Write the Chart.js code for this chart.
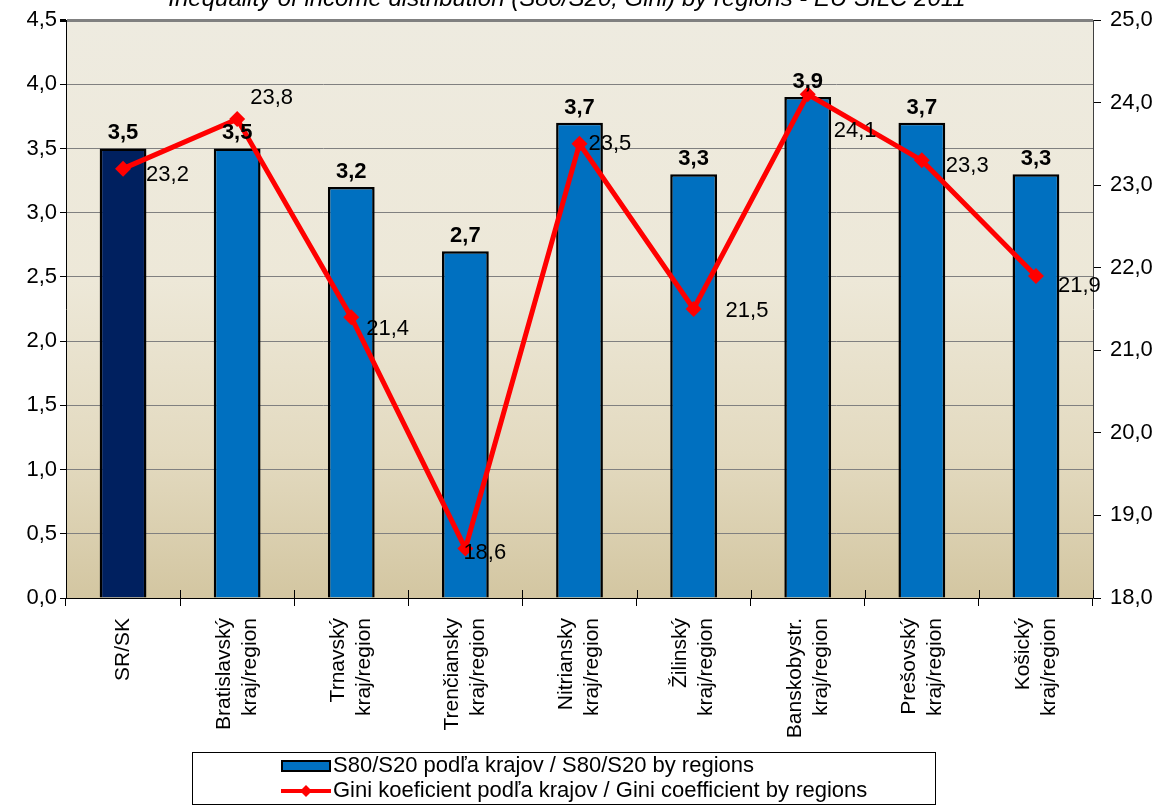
<!DOCTYPE html>
<html><head><meta charset="utf-8">
<script src="https://cdn.jsdelivr.net/npm/chart.js@4/dist/chart.umd.min.js"></script>
<style>html,body{margin:0;padding:0;background:#fff;overflow:hidden}#wrap{width:1169px;height:805px;position:relative}</style>
</head><body><div id="wrap"><canvas id="c" width="1169" height="805"></canvas></div>
<script>
const titleText = "Inequality of income distribution (S80/S20, Gini) by regions - EU SILC 2011";
const categories = [
  ["SR/SK"],
  ["Bratislavský","kraj/region"],
  ["Trnavský","kraj/region"],
  ["Trenčiansky","kraj/region"],
  ["Nitriansky","kraj/region"],
  ["Žilinský","kraj/region"],
  ["Banskobystr.","kraj/region"],
  ["Prešovský","kraj/region"],
  ["Košický","kraj/region"]
];
const s80s20 = [3.5, 3.5, 3.2, 2.7, 3.7, 3.3, 3.9, 3.7, 3.3];
const gini = [23.2, 23.8, 21.4, 18.6, 23.5, 21.5, 24.1, 23.3, 21.9];
const seriesLabels = [
  "S80/S20 podľa krajov / S80/S20 by regions",
  "Gini koeficient podľa krajov / Gini coefficient by regions"
];
const leftAxis = {min: 0, max: 4.5, step: 0.5};
const rightAxis = {min: 18, max: 25, step: 1};

const FONT = '"Liberation Sans", Arial, sans-serif';
const fmt = v => v.toFixed(1).replace('.', ',');
const barColors = s80s20.map((v, i) => i === 0 ? '#00205F' : '#0070C0');
// label nudges (style only): [dx, dy] relative to the point
const giniNudge = [[23,5],[13,-22],[15,11],[-2,3],[9,-1],[32,1],[26,36],[24,5],[22,9]];

const bgPlugin = {
  id: 'bg',
  beforeDraw(chart) {
    const {ctx, chartArea: a} = chart;
    const g = ctx.createLinearGradient(0, a.top, 0, a.bottom);
    g.addColorStop(0, '#EEEBE0');
    g.addColorStop(0.45, '#EDE8D8');
    g.addColorStop(0.75, '#E3DAC0');
    g.addColorStop(1, '#D3C6A1');
    ctx.save();
    ctx.fillStyle = g;
    ctx.fillRect(a.left, a.top, a.right - a.left, a.bottom - a.top);
    ctx.restore();
  }
};

const labelPlugin = {
  id: 'vlabels',
  afterDatasetsDraw(chart) {
    const ctx = chart.ctx;
    ctx.save();
    ctx.fillStyle = '#000';
    ctx.font = 'bold 22px ' + FONT;
    ctx.textAlign = 'center';
    ctx.textBaseline = 'alphabetic';
    chart.getDatasetMeta(0).data.forEach((el, i) => {
      ctx.fillText(fmt(s80s20[i]), el.x, el.y - 9);
    });
    ctx.font = '22px ' + FONT;
    ctx.textAlign = 'left';
    ctx.textBaseline = 'middle';
    chart.getDatasetMeta(1).data.forEach((el, i) => {
      const n = giniNudge[i];
      ctx.fillText(fmt(gini[i]), el.x + n[0], el.y + n[1] + 1);
    });
    ctx.restore();
  }
};

const decoPlugin = {
  id: 'deco',
  afterDraw(chart) {
    const ctx = chart.ctx;
    ctx.save();
    // category labels, rotated, read bottom to top
    const xs = chart.scales.x;
    ctx.fillStyle = '#000';
    ctx.font = '21px ' + FONT;
    ctx.textAlign = 'right';
    ctx.textBaseline = 'middle';
    categories.forEach((lines, i) => {
      const px = xs.getPixelForTick(i);
      const n = lines.length;
      lines.forEach((t, j) => {
        const cx = px + (j - (n - 1) / 2) * 26;
        ctx.save();
        ctx.translate(cx, 618);
        ctx.rotate(-Math.PI / 2);
        ctx.fillText(t, 0, 0);
        ctx.restore();
      });
    });
    // x-axis tick marks crossing the axis line
    ctx.strokeStyle = '#000';
    ctx.lineWidth = 1;
    const a = chart.chartArea;
    for (let i = 0; i <= categories.length; i++) {
      const x = Math.round(xs.getPixelForValue(i - 0.5)) + 0.5;
      ctx.beginPath(); ctx.moveTo(x, a.bottom - 8); ctx.lineTo(x, a.bottom); ctx.stroke();
    }
    // title (partly cut by the top edge)
    ctx.fillStyle = '#000';
    ctx.font = 'italic 24px ' + FONT;
    ctx.textAlign = 'center';
    ctx.textBaseline = 'alphabetic';
    ctx.fillText(titleText, 567, 6);
    // legend box
    const bx = 192.5, by = 752.5, bw = 743, bh = 52;
    ctx.fillStyle = '#fff';
    ctx.fillRect(bx, by, bw, bh);
    ctx.strokeStyle = '#000';
    ctx.lineWidth = 1;
    ctx.strokeRect(bx, by, bw, bh);
    // item 1: bar
    ctx.fillStyle = '#0070C0';
    ctx.fillRect(282, 761, 48, 10);
    ctx.lineWidth = 2;
    ctx.strokeRect(282, 761, 48, 10);
    // item 2: line with diamond
    ctx.strokeStyle = '#FF0000';
    ctx.lineWidth = 4;
    ctx.beginPath(); ctx.moveTo(281, 791); ctx.lineTo(331, 791); ctx.stroke();
    ctx.fillStyle = '#FF0000';
    ctx.beginPath();
    ctx.moveTo(306, 785); ctx.lineTo(312, 791); ctx.lineTo(306, 797); ctx.lineTo(300, 791); ctx.closePath(); ctx.fill();
    ctx.fillStyle = '#000';
    ctx.font = '22px ' + FONT;
    ctx.textAlign = 'left';
    ctx.textBaseline = 'middle';
    ctx.fillText(seriesLabels[0], 333, 766);
    ctx.fillText(seriesLabels[1], 333, 791);
    ctx.restore();
  }
};

new Chart(document.getElementById('c'), {
  data: {
    labels: categories.map(l => l.join(' ')),
    datasets: [
      {
        type: 'bar', label: seriesLabels[0], data: s80s20, yAxisID: 'y',
        backgroundColor: barColors, borderColor: '#000', borderWidth: 2.5,
        barPercentage: 0.41, categoryPercentage: 1, order: 1
      },
      {
        type: 'line', label: seriesLabels[1], data: gini, yAxisID: 'y2',
        borderColor: '#FF0000', borderWidth: 5, tension: 0,
        pointStyle: 'rectRot', pointRadius: 8, pointHoverRadius: 8,
        pointBackgroundColor: '#FF0000', pointBorderColor: '#FF0000', pointBorderWidth: 0,
        order: 0
      }
    ]
  },
  options: {
    responsive: false, animation: false, devicePixelRatio: 1,
    layout: {padding: {top: 20, left: 0, right: 0, bottom: 0}},
    plugins: {legend: {display: false}, tooltip: {enabled: false}, title: {display: false}},
    scales: {
      x: {
        offset: true,
        grid: {display: true, drawOnChartArea: false, drawTicks: true, tickLength: 8, color: '#000', offset: true},
        border: {display: true, color: '#000', width: 1},
        ticks: {display: false, autoSkip: false},
        afterFit(s) { s.height = 207; s.paddingLeft = 0; s.paddingRight = 0; }
      },
      y: {
        position: 'left', min: leftAxis.min, max: leftAxis.max,
        grid: {color: '#808080', lineWidth: c => (c.tick && c.tick.value === leftAxis.max) ? 3 : 1, tickLength: 6, tickColor: '#000'},
        border: {display: true, color: '#000', width: 1},
        ticks: {stepSize: leftAxis.step, color: '#000', font: {family: FONT, size: 22}, padding: 3, callback: v => fmt(v)},
        afterFit(s) { s.width = 66; s.paddingTop = 0; s.paddingBottom = 0; }
      },
      y2: {
        position: 'right', min: rightAxis.min, max: rightAxis.max,
        grid: {drawOnChartArea: false, tickLength: 8, color: '#000'},
        border: {display: true, color: '#404040', width: 1},
        ticks: {stepSize: rightAxis.step, color: '#000', font: {family: FONT, size: 22}, padding: 9, callback: v => fmt(v)},
        afterFit(s) { s.width = 76; s.paddingTop = 0; s.paddingBottom = 0; }
      }
    }
  },
  plugins: [bgPlugin, labelPlugin, decoPlugin]
});
</script>
</body></html>
